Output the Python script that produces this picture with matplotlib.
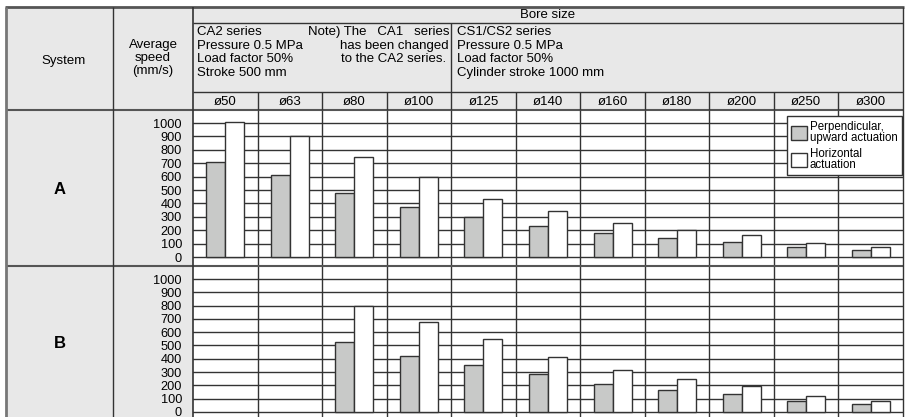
import matplotlib; matplotlib.use('Agg')
import matplotlib.pyplot as plt
import numpy as np

plt.rcParams['font.family'] = ['Liberation Sans', 'DejaVu Sans']

#############################################################################
bores = ['ø50', 'ø63', 'ø80', 'ø100', 'ø125', 'ø140', 'ø160', 'ø180', 'ø200', 'ø250', 'ø300']
systems = ['A', 'B']
# average speed (mm/s), nan = not available
perp_A = [710, 610, 475, 370, 298, 229, 177, 139, 112, 72, 50]
horiz_A = [1010, 900, 745, 600, 430, 341, 256, 204, 164, 104, 72]
perp_B = [np.nan, np.nan, 530, 423, 356, 283, 210, 168, 133, 80, 58]
horiz_B = [np.nan, np.nan, 800, 674, 551, 411, 313, 246, 195, 118, 83]
yticks = list(range(0, 1001, 100))
label_perp = 'Perpendicular,\nupward actuation'
label_horiz = 'Horizontal\nactuation'
notes_ca = ['CA2 series', 'Pressure 0.5 MPa', 'Load factor 50%', 'Stroke 500 mm']
notes_cs = ['CS1/CS2 series', 'Pressure 0.5 MPa', 'Load factor 50%', 'Cylinder stroke 1000 mm']
notes_chg = ['Note) The   CA1   series', 'has been changed', 'to the CA2 series.']
#############################################################################

W, H = 905, 417
X0, X1, X2, XR = 6, 113, 193, 903
Y0, Y1, Y2, Y3, Y4 = 7, 23, 92, 110, 266
colw = (XR - X2) / len(bores)
hdr_gray = '#e8e8e8'
line_c = '#333333'
bar_gray = '#c8c9c8'
fs = 9.5

fig = plt.figure(figsize=(W / 100, H / 100), dpi=100)

# background layer (pixel coords)
bg = fig.add_axes([0, 0, 1, 1], zorder=-1)
bg.set_xlim(0, W); bg.set_ylim(H, 0); bg.axis('off')
bg.add_patch(plt.Rectangle((X0, Y0), XR - X0, Y3 - Y0, color=hdr_gray, lw=0))
bg.add_patch(plt.Rectangle((X0, Y3), X2 - X0, H - Y3, color=hdr_gray, lw=0))

# plot rows
rows = [(perp_A, horiz_A, Y3, Y4, (-67, 1097)), (perp_B, horiz_B, Y4, H, (-38, 1098))]
x = np.arange(len(bores))
bw = 0.295
axes = []
for perp, horiz, ytop, ybot, ylim in rows:
    ax = fig.add_axes([X2 / W, 1 - ybot / H, (XR - X2) / W, (ybot - ytop) / H])
    ax.set_facecolor('white')
    b1 = ax.bar(x - bw / 2, perp, bw, color=bar_gray, edgecolor=line_c, linewidth=1, zorder=3)
    b2 = ax.bar(x + bw / 2, horiz, bw, color='white', edgecolor=line_c, linewidth=1, zorder=3)
    for xc in x[:-1] + 0.5:
        ax.axvline(xc, color=line_c, lw=1, zorder=2)
    ax.set_xlim(-0.5, len(bores) - 0.5)
    ax.set_ylim(*ylim)
    ax.set_yticks(yticks)
    ax.set_xticks([])
    ax.grid(axis='y', color=line_c, lw=1, zorder=1)
    ax.set_axisbelow(True)
    for s in ax.spines.values():
        s.set_visible(False)
    ax.tick_params(axis='y', length=0, pad=8, labelsize=9.2)
    axes.append((ax, b1, b2))

ax, b1, b2 = axes[0]
leg = ax.legend([b1, b2], [label_perp, label_horiz], loc='upper right',
                bbox_to_anchor=((XR - 1) / W, 1 - 116 / H), bbox_transform=fig.transFigure,
                borderaxespad=0, fontsize=8.3, fancybox=False, framealpha=1,
                edgecolor=line_c, handlelength=1.35, handleheight=1.5,
                handletextpad=0.25, labelspacing=0.35, borderpad=0.4)
leg.get_frame().set_linewidth(1)
leg.set_zorder(10)
for t in leg.get_texts():
    t.set_linespacing(0.9)

# overlay layer: table lines and texts
top = fig.add_axes([0, 0, 1, 1], zorder=5)
top.set_xlim(0, W); top.set_ylim(H, 0); top.axis('off')
top.patch.set_alpha(0)

def hl(y, xa, xb, lw=1, c=line_c):
    top.plot([xa, xb], [y, y], color=c, lw=lw, solid_capstyle='butt')

def vl(xv, ya, yb, lw=1, c=line_c):
    top.plot([xv, xv], [ya, yb], color=c, lw=lw, solid_capstyle='butt')

hl(Y0, X0 - 1, XR + 1, lw=2, c='#555555')
hl(Y1, X2, XR)
hl(Y2, X2, XR)
hl(Y3, X0, XR, lw=1.5, c='#555555')
hl(Y4, X0, XR, lw=1.5, c='#555555')
vl(X0, Y0, H, lw=2, c='#777777')
vl(X1, Y0, H)
vl(X2, Y0, H, lw=1.2)
vl(XR, Y0, H)
vl(X2 + 4 * colw, Y1, Y2)
for i in range(1, len(bores)):
    vl(X2 + i * colw, Y2, Y3)

top.text((X0 + X1) / 2 + 4, 61, 'System', ha='center', va='center', fontsize=fs)
top.text((X1 + X2) / 2, 58, 'Average\nspeed\n(mm/s)', ha='center', va='center',
         fontsize=fs, linespacing=1.1)
top.text((X2 + XR) / 2, (Y0 + Y1) / 2, 'Bore size', ha='center', va='center', fontsize=fs)
for i, b in enumerate(bores):
    top.text(X2 + (i + 0.5) * colw, (Y2 + Y3) / 2 + 0.5, b, ha='center', va='center', fontsize=fs)
for j, (n1, n2) in enumerate(zip(notes_ca, notes_cs)):
    yy = 32 + j * 13.6
    top.text(X2 + 4, yy, n1, ha='left', va='center', fontsize=fs)
    top.text(X2 + 4 * colw + 6, yy, n2, ha='left', va='center', fontsize=fs)
for j, n in enumerate(notes_chg):
    top.text(449 - (3 if j == 2 else 0), 32 + j * 13.6, n, ha='right', va='center', fontsize=fs)
for s, (p, hz, ytop, ybot, yl) in zip(systems, rows):
    yc = 189 if s == 'A' else 343
    top.text((X0 + X1) / 2, yc, s, ha='center', va='center', fontsize=12, fontweight='bold')

fig.savefig('out.png', dpi=100)
